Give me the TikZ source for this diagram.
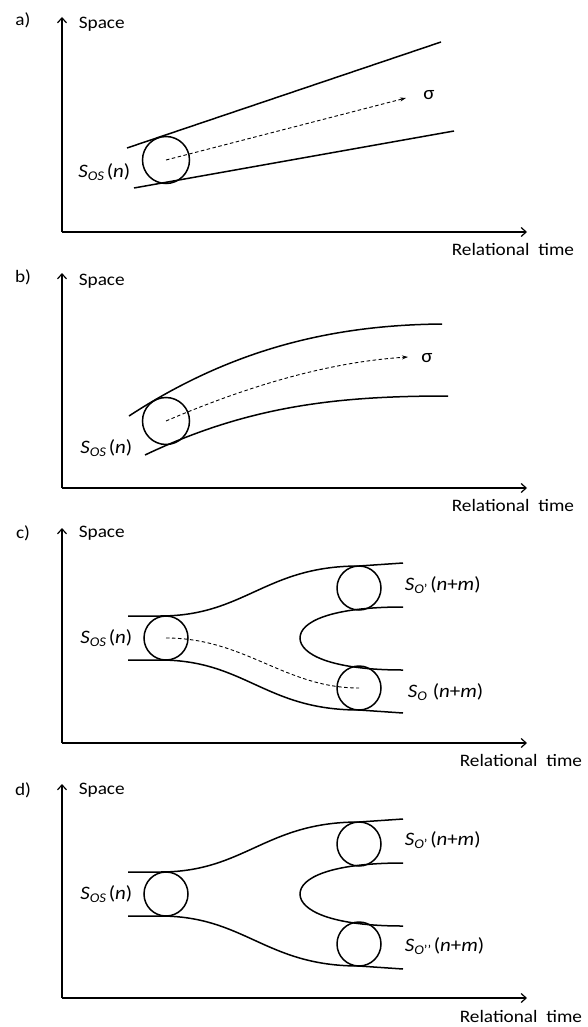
\documentclass[tikz,border=0pt]{standalone}
\usepackage{fontspec}
\setmainfont{Carlito}
\usetikzlibrary{arrows.meta}

\begin{document}
\begin{tikzpicture}[x=1pt,y=-1pt,line width=1.5pt,
  axis/.style={-{Straight Barb[length=5pt,width=9pt,line width=1.2pt]}},
  path/.style={line width=0.9pt,dash pattern=on 3.5pt off 2.5pt},
  lbl/.style={inner sep=0pt,font=\fontsize{17.5}{20}\selectfont,xscale=1.1},
  slbl/.style={inner sep=0pt,font=\fontsize{19}{22}\selectfont,xscale=1.1},
  ball/.style={circle,draw,line width=1.5pt,inner sep=0pt}]
\useasboundingbox (0,0) rectangle (588,1027);
% a)
\node[lbl] (a-tag) at (23,20) {a)};
\coordinate (a-o) at (62,232);
\coordinate (a-y) at (62,17);
\coordinate (a-x) at (527,232);
\draw[axis] (a-o)--(a-y);
\draw[axis] (a-o)--(a-x);
\node[lbl,anchor=west] (a-space) at (78,24) {Space};
\node[lbl,anchor=west] (a-time) at (451,249) {Relational\ \ time};
\draw (127,148)--(441,42);
\draw (134,188)--(454,131);
\node[ball,minimum size=47pt] (a-ball) at (166,160) {};
\node[slbl,anchor=east] (a-sos) at (131,172) {\textit{S}\textsubscript{\textit{OS}}\hspace{2pt}(\textit{n})};
\coordinate (a-end) at (406,98);
\draw[path,-{Stealth[length=6pt,width=4pt]}] (a-ball.center)--(a-end);
\node[slbl] (a-sigma) at (429,95) {σ};
% b)
\node[lbl] (b-tag) at (23,277) {b)};
\coordinate (b-o) at (62,488);
\coordinate (b-y) at (62,273);
\coordinate (b-x) at (527,488);
\draw[axis] (b-o)--(b-y);
\draw[axis] (b-o)--(b-x);
\node[lbl,anchor=west] (b-space) at (78,281) {Space};
\node[lbl,anchor=west] (b-time) at (451,505) {Relational\ \ time};
\draw (129,416) .. controls (230,350) and (330,325) .. (442,324);
\draw (145,455) .. controls (250,405) and (340,396) .. (448,396);
\node[ball,minimum size=47pt] (b-ball) at (166,421) {};
\node[slbl,anchor=east] (b-sos) at (133,448) {\textit{S}\textsubscript{\textit{OS}}\hspace{2pt}(\textit{n})};
\coordinate (b-end) at (408,357);
\draw[path,-{Stealth[length=6pt,width=4pt]}] (b-ball.center) .. controls (250,385) and (330,362) .. (b-end);
\node[slbl] (b-sigma) at (427,358) {σ};
% c)
\node[lbl] (c-tag) at (23,533) {c)};
\coordinate (c-o) at (62,743);
\coordinate (c-y) at (62,528);
\coordinate (c-x) at (527,743);
\draw[axis] (c-o)--(c-y);
\draw[axis] (c-o)--(c-x);
\node[lbl,anchor=west] (c-space) at (78,533) {Space};
\node[lbl,anchor=west] (c-time) at (459,760) {Relational\ \ time};
\draw (128,616)--(160,616) .. controls (245,616) and (265,566) .. (359,566)--(403,563);
\draw (128,660)--(160,660) .. controls (245,660) and (265,710) .. (359,710)--(403,713);
\draw (403,607) .. controls (330,607) and (300,622) .. (300,638) .. controls (300,654) and (330,670) .. (403,670);
\node[ball,minimum size=44pt] (c-ball) at (166,638) {};
\node[ball,minimum size=44pt] (c-top) at (359,588) {};
\node[ball,minimum size=44pt] (c-bot) at (359,688) {};
\node[slbl,anchor=east] (c-sos) at (133,638) {\textit{S}\textsubscript{\textit{OS}}\hspace{2pt}(\textit{n})};
\node[slbl,anchor=west] (c-so1) at (404,585) {\textit{S}\textsubscript{\textit{O}’}\hspace{2pt}(\textit{n}+\textit{m})};
\node[slbl,anchor=west] (c-so) at (407,692) {\textit{S}\textsubscript{\textit{O}}\hspace{5pt}(\textit{n}+\textit{m})};
\draw[path] (c-ball.center) .. controls (245,638) and (285,688) .. (c-bot.center);
% d)
\node[lbl] (d-tag) at (23,790) {d)};
\coordinate (d-o) at (62,998);
\coordinate (d-y) at (62,784);
\coordinate (d-x) at (527,998);
\draw[axis] (d-o)--(d-y);
\draw[axis] (d-o)--(d-x);
\node[lbl,anchor=west] (d-space) at (78,790) {Space};
\node[lbl,anchor=west] (d-time) at (459,1016) {Relational\ \ time};
\draw (128,872)--(160,872) .. controls (245,872) and (265,822) .. (359,822)--(403,819);
\draw (128,916)--(160,916) .. controls (245,916) and (265,966) .. (359,966)--(403,969);
\draw (403,863) .. controls (330,863) and (300,878) .. (300,894) .. controls (300,910) and (330,926) .. (403,926);
\node[ball,minimum size=44pt] (d-ball) at (166,894) {};
\node[ball,minimum size=44pt] (d-top) at (359,844) {};
\node[ball,minimum size=44pt] (d-bot) at (359,944) {};
\node[slbl,anchor=east] (d-sos) at (133,894) {\textit{S}\textsubscript{\textit{OS}}\hspace{2pt}(\textit{n})};
\node[slbl,anchor=west] (d-so1) at (404,840) {\textit{S}\textsubscript{\textit{O}’}\hspace{2pt}(\textit{n}+\textit{m})};
\node[slbl,anchor=west] (d-so2) at (404,946) {\textit{S}\textsubscript{\textit{O}’’}\hspace{2pt}(\textit{n}+\textit{m})};
\end{tikzpicture}
\end{document}
